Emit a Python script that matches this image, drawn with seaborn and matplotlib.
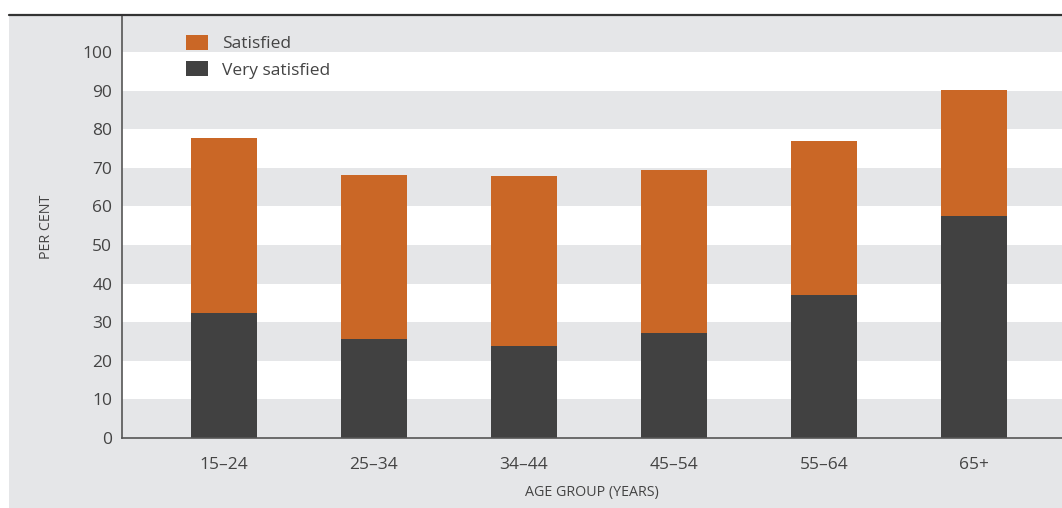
import matplotlib
matplotlib.use("Agg")
import matplotlib.pyplot as plt
from matplotlib.patches import Patch, Rectangle
from matplotlib.lines import Line2D
import seaborn as sns
import pandas as pd

# Data
age_groups = ["15\u201324", "25\u201334", "34\u201344", "45\u201354", "55\u201364", "65+"]
very_satisfied = [32.4, 25.7, 23.8, 27.2, 37.0, 57.5]
satisfied = [45.3, 42.4, 44.1, 42.2, 39.9, 32.7]
y_ticks = [0, 10, 20, 30, 40, 50, 60, 70, 80, 90, 100]

ORANGE = "#CA6726"
DARK = "#414141"
PANEL = "#E5E6E8"
TEXT = "#444444"
AXIS = "#555555"

sns.set_theme(style="white")
plt.rcParams["font.family"] = ["Open Sans", "DejaVu Sans"]

W, H = 1062, 508
fig = plt.figure(figsize=(W / 100, H / 100), dpi=100, facecolor="white")

# Grey panel behind the chart and the rule above it
fig.patches.append(Rectangle((9 / W, 0), 1 - 9 / W, (H - 15) / H,
                             transform=fig.transFigure, facecolor=PANEL,
                             edgecolor="none", zorder=-10))
fig.lines.append(Line2D([9 / W, 1], [1 - 14.5 / H, 1 - 14.5 / H],
                        transform=fig.transFigure, color="#333333",
                        linewidth=1.6, zorder=5))

left, right, top, bottom = 122, 1062, 15, 438
ax = fig.add_axes([left / W, (H - bottom) / H, (right - left) / W, (bottom - top) / H])
ax.set_facecolor(PANEL)

ymax = (bottom - top) / ((bottom - 52) / 100)
for lo in range(10, 100, 20):
    ax.axhspan(lo, lo + 10, color="white", zorder=0, linewidth=0)

df = pd.DataFrame({
    "age": age_groups,
    "very": very_satisfied,
    "total": [v + s for v, s in zip(very_satisfied, satisfied)],
})

sns.barplot(data=df, x="age", y="total", color=ORANGE, width=0.44,
            saturation=1, ax=ax, zorder=2, linewidth=0)
sns.barplot(data=df, x="age", y="very", color=DARK, width=0.44,
            saturation=1, ax=ax, zorder=3, linewidth=0)

ax.set_xlim(-0.68, 5.587)
ax.set_ylim(0, ymax)
ax.set_yticks(y_ticks)
ax.set_yticklabels([str(t) for t in y_ticks])
ax.tick_params(axis="both", length=0, labelsize=12.5, colors=TEXT)
ax.tick_params(axis="y", pad=7)
ax.tick_params(axis="x", pad=14)

for s in ["top", "right"]:
    ax.spines[s].set_visible(False)
for s in ["left", "bottom"]:
    ax.spines[s].set_color(AXIS)
    ax.spines[s].set_linewidth(1.2)
    ax.spines[s].set_zorder(4)

ax.set_xlabel("AGE GROUP (YEARS)", fontsize=10.3, color=TEXT, labelpad=8)
ax.set_ylabel("PER CENT", fontsize=10.3, color=TEXT, labelpad=20)

handles = [Patch(facecolor=ORANGE, edgecolor="none", label="Satisfied"),
           Patch(facecolor=DARK, edgecolor="none", label="Very satisfied")]
fig.legend(handles=handles, loc="upper left",
           bbox_to_anchor=(186 / W, 1 - 35 / H), frameon=False,
           fontsize=12.5, borderpad=0, borderaxespad=0,
           handlelength=1.25, handleheight=0.95, handletextpad=0.85,
           labelspacing=0.5, labelcolor=TEXT)

fig.savefig("out.png", dpi=100, facecolor="white")
